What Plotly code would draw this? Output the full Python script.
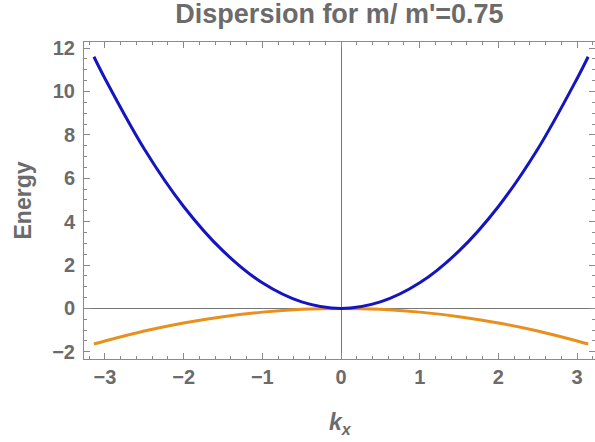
import plotly.graph_objects as go

# Data
k_values = [-3.14, -3.0, -2.5, -2.0, -1.5, -1.0, -0.5, 0.0, 0.5, 1.0, 1.5, 2.0, 2.5, 3.0, 3.14]
upper_band = [11.6, 10.6, 7.35, 4.7, 2.65, 1.18, 0.3, 0.0, 0.3, 1.18, 2.65, 4.7, 7.35, 10.6, 11.6]
lower_band = [-1.64, -1.5, -1.04, -0.67, -0.38, -0.17, -0.04, 0.0, -0.04, -0.17, -0.38, -0.67, -1.04, -1.5, -1.64]
x_ticks = [-3, -2, -1, 0, 1, 2, 3]
y_ticks = [-2, 0, 2, 4, 6, 8, 10, 12]
title_text = "Dispersion for m/ m'=0.75"

GRAY = "#6b6b6b"
FONT = "Liberation Sans"

W, H = 595, 442
L, R, T, B = 84, 0, 42, 83

fig = go.Figure()
fig.add_trace(go.Scatter(x=k_values, y=lower_band, mode="lines",
                         line=dict(color="#e8901e", width=3, shape="spline"), showlegend=False))
fig.add_trace(go.Scatter(x=k_values, y=upper_band, mode="lines",
                         line=dict(color="#1414c0", width=3, shape="spline"), showlegend=False))

axis_common = dict(
    showgrid=False, zeroline=True, zerolinecolor="#777777", zerolinewidth=1,
    showline=True, linecolor="#8a8a8a", linewidth=1, mirror="ticks",
    ticks="inside", ticklen=6, tickcolor="#8a8a8a", tickwidth=1,
    tickfont=dict(family=FONT, size=20, color=GRAY, weight="bold"),
)

fig.update_xaxes(range=[-3.266, 3.227], tickvals=x_ticks,
                 minor=dict(dtick=0.2, ticks="inside", ticklen=3, tickcolor="#8a8a8a"),
                 **axis_common)
fig.update_yaxes(range=[-2.33, 12.28], tickvals=y_ticks, ticklabelstandoff=4,
                 minor=dict(dtick=0.5, ticks="inside", ticklen=3, tickcolor="#8a8a8a"),
                 **axis_common)

pw, ph = W - L - R, H - T - B

fig.update_layout(
    width=W, height=H,
    margin=dict(l=L, r=R, t=T, b=B, autoexpand=False),
    paper_bgcolor="white", plot_bgcolor="white",
    hovermode=False,
    title=dict(text=title_text, x=0.5, xref="paper", y=1 - 14 / H, yanchor="middle",
               font=dict(family=FONT, size=27, color=GRAY, weight="bold")),
    annotations=[
        dict(text="Energy", xref="paper", yref="paper", x=(22 - L) / pw, y=0.5, textangle=-90,
             showarrow=False, xanchor="center", yanchor="middle",
             font=dict(family=FONT, size=23, color=GRAY, weight="bold")),
        dict(text="<i>k</i><sub><i>x</i></sub>", xref="paper", yref="paper",
             x=(340 - L) / pw, y=((H - B) - 423) / ph, showarrow=False,
             xanchor="center", yanchor="middle",
             font=dict(family=FONT, size=23, color=GRAY, weight="bold")),
    ],
)

# remove the default 8px page margin so the figure sits at the window's corner
fig.write_html("out.html", config={"displayModeBar": False},
               post_script="document.body.style.margin='0px';")
